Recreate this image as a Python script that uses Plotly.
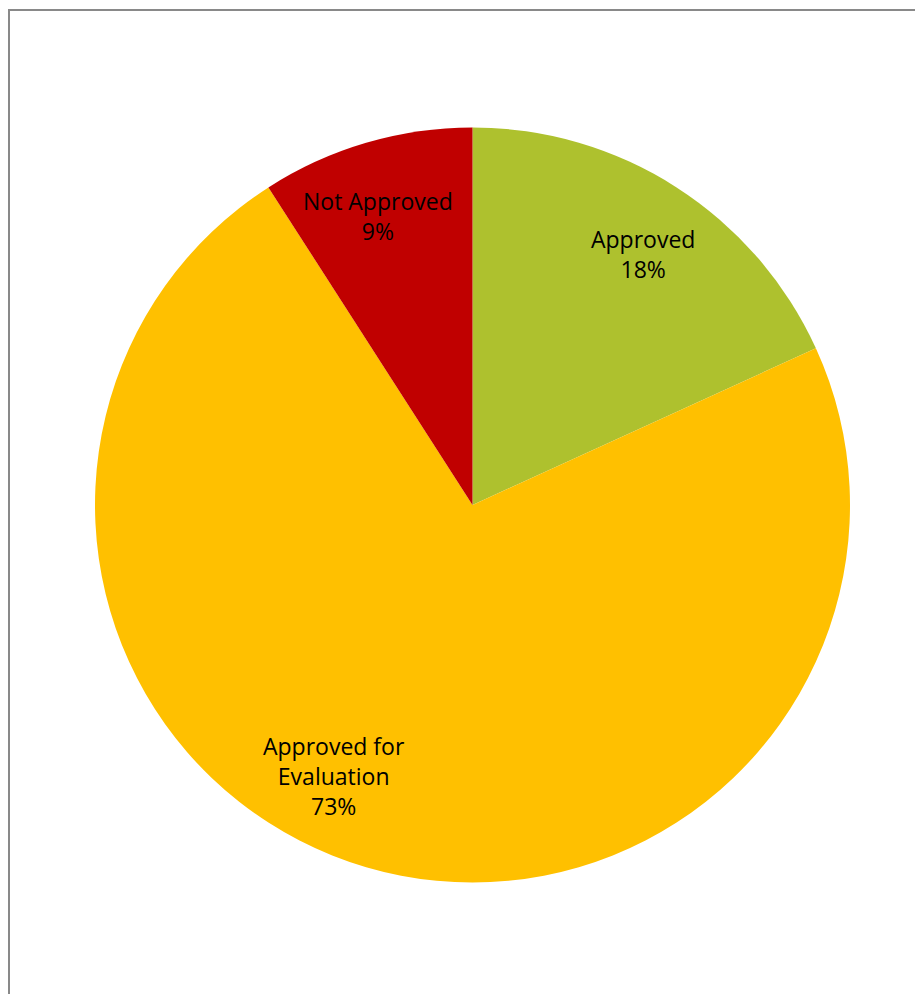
import plotly.graph_objects as go

categories = ["Approved", "Approved for Evaluation", "Not Approved"]
values = [2, 8, 1]
colors = ["#AEC12E", "#FFC000", "#C00000"]
label_text = ["Approved<br>18%", "Approved for<br>Evaluation<br>73%", "Not Approved<br>9%"]

W, H = 923, 994
OFF = 8  # page body margin offset

def fx(px):
    return (px - OFF) / W

def fy(py):
    return (H - (py - OFF)) / H

fig = go.Figure(go.Pie(
    labels=categories,
    values=values,
    marker=dict(colors=colors, line=dict(width=0)),
    sort=False,
    direction="clockwise",
    rotation=0,
    textinfo="none",
    hoverinfo="label+percent",
    showlegend=False,
    domain=dict(x=[fx(95), fx(850)], y=[fy(882.5), fy(127.5)]),
))

# label placements (pixel centres on page)
label_pos = [(643, 254), (334, 776), (378, 216)]
for txt, (px, py) in zip(label_text, label_pos):
    fig.add_annotation(
        x=fx(px), y=fy(py), xref="paper", yref="paper",
        xanchor="center", yanchor="middle",
        text=txt, showarrow=False, align="center",
        font=dict(family="Open Sans, Liberation Sans, sans-serif", size=23, color="#000000"),
    )

fig.add_shape(type="rect", xref="paper", yref="paper",
              x0=fx(9), x1=1.05, y0=-0.05, y1=fy(10),
              line=dict(color="#898989", width=2), fillcolor="rgba(0,0,0,0)")

fig.update_layout(
    width=W, height=H,
    margin=dict(l=0, r=0, t=0, b=0),
    paper_bgcolor="white", plot_bgcolor="white",
)

fig.write_html("out.html")
